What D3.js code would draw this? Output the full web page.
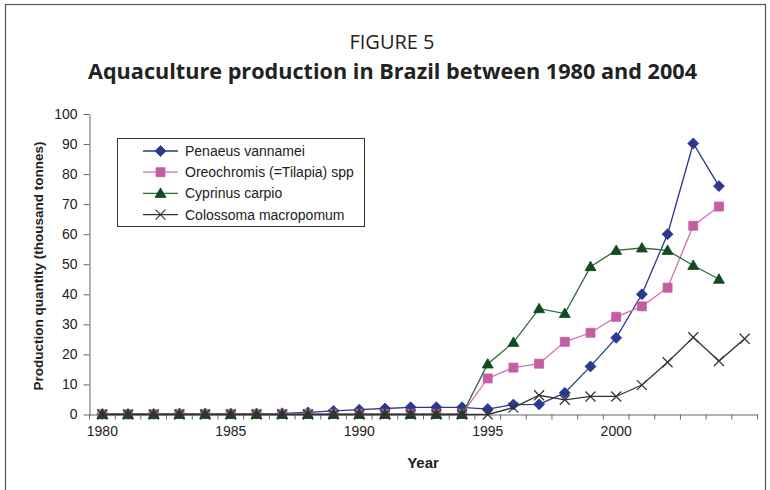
<!doctype html>
<html>
<head>
	<meta charset="utf-8">
	<title>Figure 5</title>
	<style>
		body { margin: 0; background: #fff; }
		svg { display: block; }
		.axis path, .axis line { stroke: #666; }
		.axis text { font-family: "Liberation Sans", Arial, sans-serif; font-size: 14px; fill: #222; }
		.series-line { fill: none; stroke-width: 1.3; }
		.legend text { font-family: "Liberation Sans", Arial, sans-serif; font-size: 14px; fill: #222; }
	</style>
</head>
<body>

	<svg width="770" height="490"></svg>

	<script src="https://d3js.org/d3.v7.min.js"></script>
	<script>

		// data (thousand tonnes)
		const years = d3.range( 1980, 2006 );
		const xLabels = [ 1980, 1985, 1990, 1995, 2000 ];
		const yTicks = [ 0, 10, 20, 30, 40, 50, 60, 70, 80, 90, 100 ];

		const penaeus = [ 0.2, 0.2, 0.2, 0.3, 0.3, 0.3, 0.3, 0.4, 0.7, 1.2, 1.6, 2.0, 2.4, 2.4, 2.4, 1.8, 3.3, 3.4, 7.2, 16.0, 25.5, 40.0, 60.0, 90.2, 76.0, null ];
		const oreochromis = [ 0.1, 0.1, 0.1, 0.2, 0.2, 0.2, 0.2, 0.2, 0.2, 0.2, 0.2, 0.2, 0.2, 0.2, 0.2, 12.0, 15.6, 16.9, 24.2, 27.2, 32.5, 36.0, 42.2, 62.8, 69.2, null ];
		const cyprinus = [ 0, 0, 0, 0, 0, 0, 0, 0, 0, 0, 0, 0, 0, 0, 0, 16.8, 24.0, 35.2, 33.6, 49.2, 54.6, 55.4, 54.6, 49.6, 45.0, null ];
		const colossoma = [ 0, 0, 0, 0, 0, 0, 0, 0, 0, 0, 0, 0, 0, 0, 0, 0, 2.3, 6.4, 4.9, 6.0, 6.0, 9.8, 17.4, 25.7, 17.8, 25.2 ];

		const seriesNames = [ "Penaeus vannamei", "Oreochromis (=Tilapia) spp", "Cyprinus carpio", "Colossoma macropomum" ];

		const series = [
			{ name: seriesNames[0], values: penaeus, line: "#2b3990", fill: "#2b3990", marker: "diamond" },
			{ name: seriesNames[1], values: oreochromis, line: "#d46fb3", fill: "#c45ea3", marker: "square" },
			{ name: seriesNames[2], values: cyprinus, line: "#2f6a3b", fill: "#134a1f", marker: "triangle" },
			{ name: seriesNames[3], values: colossoma, line: "#333", fill: "none", marker: "cross" }
		];

		const svg = d3.select( "svg" );

		// outer frame
		svg.append( "rect" )
			.attr( "x", 5.5 ).attr( "y", 4.5 )
			.attr( "width", 760 ).attr( "height", 520 )
			.attr( "fill", "none" )
			.attr( "stroke", "#555" )
			.attr( "stroke-width", 1.2 );

		// titles
		svg.append( "text" )
			.attr( "x", 392 ).attr( "y", 48.5 )
			.attr( "text-anchor", "middle" )
			.style( "font-family", "'Open Sans', 'Noto Sans', sans-serif" )
			.style( "font-size", "20px" )
			.style( "fill", "#222" )
			.text( "FIGURE 5" );

		svg.append( "text" )
			.attr( "x", 88 ).attr( "y", 79 )
			.attr( "textLength", 609 )
			.attr( "lengthAdjust", "spacingAndGlyphs" )
			.style( "font-family", "'Open Sans', 'Noto Sans', sans-serif" )
			.style( "font-size", "21px" )
			.style( "font-weight", "bold" )
			.style( "fill", "#222" )
			.text( "Aquaculture production in Brazil between 1980 and 2004" );

		const x = d3.scaleBand()
				.domain( years )
				.range( [ 89.5, 757.5 ] );

		const y = d3.scaleLinear()
				.domain( [ 0, 100 ] )
				.range( [ 414.5, 114 ] );

		// y axis
		svg.append( "g" )
			.attr( "class", "axis" )
			.attr( "transform", "translate(" + x.range()[0] + ",0)" )
			.call( d3.axisLeft( y ).tickValues( yTicks ).tickSize( 6 ).tickSizeOuter( 0 ).tickPadding( 6 ) );

		// x axis: labels under category centres, ticks at category boundaries
		const xAxis = svg.append( "g" )
			.attr( "class", "axis" )
			.attr( "transform", "translate(0," + y( 0 ) + ")" )
			.call( d3.axisBottom( x ).tickValues( xLabels ).tickSize( 0 ).tickSizeOuter( 0 ).tickPadding( 12 ) );

		xAxis.selectAll( ".tick line" ).remove();

		xAxis.selectAll( ".boundary" )
			.data( years.map( d => x( d ) ).concat( [ x.range()[1] ] ) )
			.enter().append( "line" )
				.attr( "class", "boundary" )
				.attr( "x1", d => d ).attr( "x2", d => d )
				.attr( "y1", 0 ).attr( "y2", 5 );

		// axis titles
		svg.append( "text" )
			.attr( "transform", "translate(43," + 266 + ") rotate(-90)" )
			.attr( "text-anchor", "middle" )
			.style( "font-family", "'Liberation Sans', Arial, sans-serif" )
			.style( "font-size", "13.5px" )
			.style( "font-weight", "bold" )
			.style( "fill", "#222" )
			.text( "Production quantity (thousand tonnes)" );

		svg.append( "text" )
			.attr( "x", 423 ).attr( "y", 468 )
			.attr( "text-anchor", "middle" )
			.style( "font-family", "'Liberation Sans', Arial, sans-serif" )
			.style( "font-size", "15px" )
			.style( "font-weight", "bold" )
			.style( "fill", "#222" )
			.text( "Year" );

		// marker shapes, centred on 0,0
		const markerPath = {
			diamond: "M0,-5.5L5.5,0L0,5.5L-5.5,0Z",
			square: "M-4.5,-4.5H4.5V4.5H-4.5Z",
			triangle: "M0,-5.5L5.5,4L-5.5,4Z",
			cross: "M-5,-5L5,5M-5,5L5,-5"
		};

		function drawMarker( sel, s ) {
			sel.append( "path" )
				.attr( "d", markerPath[ s.marker ] )
				.attr( "fill", s.fill )
				.attr( "stroke", s.marker === "cross" ? s.line : s.fill )
				.attr( "stroke-width", s.marker === "cross" ? 1.2 : 0.8 );
		}

		const line = d3.line()
				.defined( d => d.v !== null )
				.x( d => x( d.year ) + x.bandwidth() / 2 )
				.y( d => y( d.v ) );

		series.forEach( s => {

			const pts = years.map( ( yr, i ) => ( { year: yr, v: s.values[ i ] } ) );

			svg.append( "path" )
				.datum( pts )
				.attr( "class", "series-line" )
				.attr( "stroke", s.line )
				.attr( "d", line );

			svg.append( "g" ).selectAll( "g" )
				.data( pts.filter( d => d.v !== null ) )
				.enter().append( "g" )
					.attr( "transform", d => "translate(" + ( x( d.year ) + x.bandwidth() / 2 ) + "," + y( d.v ) + ")" )
					.each( function() { drawMarker( d3.select( this ), s ); } );
		});

		// legend
		const legend = svg.append( "g" )
			.attr( "class", "legend" );

		legend.append( "rect" )
			.attr( "x", 117.5 ).attr( "y", 138.5 )
			.attr( "width", 247 ).attr( "height", 88 )
			.attr( "fill", "#fff" )
			.attr( "stroke", "#333" );

		const row = legend.selectAll( ".row" )
			.data( series )
			.enter().append( "g" )
				.attr( "class", "row" )
				.attr( "transform", ( d, i ) => "translate(0," + ( 151 + i * 21.2 ) + ")" );

		row.append( "line" )
			.attr( "x1", 143 ).attr( "x2", 178 )
			.attr( "stroke", d => d.line )
			.attr( "stroke-width", 1.3 );

		row.append( "g" )
			.attr( "transform", "translate(160.5,0)" )
			.each( function( d ) { drawMarker( d3.select( this ), d ); } );

		row.append( "text" )
			.attr( "x", 185 )
			.attr( "dy", "0.36em" )
			.text( d => d.name );

	</script>

</body>
</html>
